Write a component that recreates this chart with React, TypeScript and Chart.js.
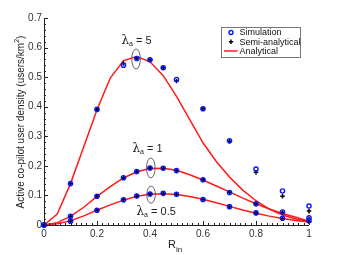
import React, { useEffect, useRef } from "react";
import { Chart, registerables } from "chart.js";

Chart.register(...registerables);

const pointX = [0, 0.1, 0.2, 0.3, 0.35, 0.4, 0.45, 0.5, 0.6, 0.7, 0.8, 0.9, 1.0];
const sim5 = [0, 0.140, 0.391, 0.540, 0.563, 0.559, 0.532, 0.492, 0.393, 0.285, 0.189, 0.115, 0.064];
const semi5 = [0, 0.140, 0.391, 0.546, 0.563, 0.559, 0.532, 0.487, 0.393, 0.283, 0.178, 0.097, 0.047];
const sim1 = [0, 0.029, 0.097, 0.160, 0.181, 0.193, 0.192, 0.184, 0.153, 0.110, 0.072, 0.044, 0.024];
const semi1 = [0, 0.029, 0.097, 0.160, 0.181, 0.193, 0.192, 0.184, 0.154, 0.111, 0.071, 0.042, 0.020];
const sim05 = [0, 0.013, 0.050, 0.085, 0.098, 0.105, 0.107, 0.104, 0.086, 0.062, 0.041, 0.023, 0.014];
const semi05 = [0, 0.013, 0.050, 0.085, 0.098, 0.105, 0.107, 0.104, 0.086, 0.062, 0.040, 0.022, 0.011];

const lineX = [0, 0.05, 0.1, 0.15, 0.2, 0.25, 0.3, 0.35, 0.4, 0.45, 0.5, 0.55, 0.6, 0.65, 0.7, 0.75, 0.8, 0.85, 0.9, 0.95, 1.0];
const ana5 = [0, 0.037, 0.14, 0.265, 0.39, 0.497, 0.556, 0.570, 0.552, 0.505, 0.435, 0.356, 0.278, 0.215, 0.162, 0.118, 0.082, 0.054, 0.034, 0.020, 0.012];
const ana1 = [0, 0.008, 0.029, 0.06, 0.097, 0.13, 0.159, 0.18, 0.191, 0.192, 0.185, 0.17, 0.152, 0.132, 0.112, 0.091, 0.072, 0.054, 0.039, 0.026, 0.013];
const ana05 = [0, 0.004, 0.014, 0.031, 0.050, 0.068, 0.084, 0.097, 0.104, 0.106, 0.103, 0.096, 0.087, 0.075, 0.063, 0.051, 0.040, 0.030, 0.022, 0.015, 0.010];

const xTickLabels = ["0", "0.2", "0.4", "0.6", "0.8", "1"];
const yTickLabels = ["0", "0.1", "0.2", "0.3", "0.4", "0.5", "0.6", "0.7"];
const legendLabels = ["Simulation", "Semi-analytical", "Analytical"];
const curveLabels = ["5", "1", "0.5"];
// annotation anchors in data coordinates: [labelX, labelBaselineY, ellipseX, ellipseY]
const annotations = [
  [0.292, 0.613, 0.3475, 0.5615],
  [0.334, 0.248, 0.403, 0.193],
  [0.349, 0.035, 0.404, 0.1026],
];

const BLUE = "#0a14ff";
const RED = "#ff1a1a";

const pts = (xs: number[], ys: number[]) => xs.map((x, i) => ({ x, y: ys[i] }));

export default function App() {
  const ref = useRef<HTMLCanvasElement>(null);
  useEffect(() => {
    if (!ref.current) return;
    const simStyle = {
      showLine: false,
      pointStyle: "circle" as const,
      pointRadius: 2.1,
      pointBorderWidth: 1.4,
      pointBorderColor: BLUE,
      pointBackgroundColor: "rgba(0,0,0,0)",
      borderColor: BLUE,
      clip: false as any,
    };
    const semiStyle = {
      showLine: false,
      pointStyle: "cross" as const,
      pointRadius: 2.3,
      pointBorderWidth: 1.5,
      pointBorderColor: "#000",
      pointBackgroundColor: "#000",
      borderColor: "#000",
      clip: false as any,
    };
    const lineStyle = {
      showLine: true,
      borderColor: RED,
      borderWidth: 1.5,
      pointRadius: 0,
      tension: 0,
      fill: false,
      clip: false as any,
    };

    const plugin = {
      id: "decor",
      afterDraw(chart: any) {
        const ctx = chart.ctx;
        const xs = chart.scales.x;
        const ys = chart.scales.y;
        const ca = chart.chartArea;
        ctx.save();
        // axis lines
        ctx.strokeStyle = "#222";
        ctx.lineWidth = 1;
        ctx.beginPath();
        ctx.moveTo(ca.left + 0.5, ca.top);
        ctx.lineTo(ca.left + 0.5, ca.bottom + 0.5);
        ctx.lineTo(ca.right, ca.bottom + 0.5);
        ctx.stroke();
        // ticks (inward)
        ctx.beginPath();
        for (let i = 0; i <= 50; i++) {
          const v = i * 0.02;
          const px = Math.round(xs.getPixelForValue(v)) + 0.5;
          const len = i % 10 === 0 ? 4 : 2;
          ctx.moveTo(px, ca.bottom);
          ctx.lineTo(px, ca.bottom - len);
        }
        for (let i = 0; i <= 35; i++) {
          const v = i * 0.02;
          const py = Math.round(ys.getPixelForValue(v)) + 0.5;
          const len = i % 5 === 0 ? 4 : 2;
          ctx.moveTo(ca.left, py);
          ctx.lineTo(ca.left + len, py);
        }
        ctx.stroke();

        // y title
        ctx.fillStyle = "#222";
        ctx.textBaseline = "alphabetic";
        const main = "Active co-pilot user density (users/km";
        ctx.font = "10px 'Liberation Sans', Arial, sans-serif";
        const wMain = ctx.measureText(main).width;
        ctx.font = "7px 'Liberation Sans', Arial, sans-serif";
        const wSup = ctx.measureText("2").width;
        ctx.font = "10px 'Liberation Sans', Arial, sans-serif";
        const wEnd = ctx.measureText(")").width;
        const total = wMain + wSup + wEnd;
        ctx.save();
        ctx.translate(24, 122);
        ctx.rotate(-Math.PI / 2);
        let cx = -total / 2;
        ctx.textAlign = "left";
        ctx.fillText(main, cx, 0);
        cx += wMain;
        ctx.font = "7px 'Liberation Sans', Arial, sans-serif";
        ctx.fillText("2", cx, -5);
        cx += wSup;
        ctx.font = "10px 'Liberation Sans', Arial, sans-serif";
        ctx.fillText(")", cx, 0);
        ctx.restore();

        // x title
        ctx.font = "11px 'Liberation Sans', Arial, sans-serif";
        ctx.textAlign = "left";
        ctx.fillText("R", 168, 248);
        const rw = ctx.measureText("R").width;
        ctx.font = "8px 'Liberation Sans', Arial, sans-serif";
        ctx.fillText("in", 168 + rw, 252);

        // annotations
        annotations.forEach((a, i) => {
          const lx = xs.getPixelForValue(a[0]);
          const ly = ys.getPixelForValue(a[1]);
          ctx.fillStyle = "#222";
          ctx.font = "12px 'DejaVu Serif', serif";
          ctx.fillText("λ", lx, ly);
          const lw = ctx.measureText("λ").width;
          ctx.font = "7px 'Liberation Sans', Arial, sans-serif";
          ctx.fillText("a", lx + lw, ly + 2.5);
          const aw = ctx.measureText("a").width;
          ctx.font = "11px 'Liberation Sans', Arial, sans-serif";
          ctx.fillText(" = " + curveLabels[i], lx + lw + aw, ly);
          const ex = xs.getPixelForValue(a[2]);
          const ey = ys.getPixelForValue(a[3]);
          ctx.strokeStyle = "#555";
          ctx.lineWidth = 0.9;
          ctx.beginPath();
          ctx.ellipse(ex, ey, 4.3, i === 2 ? 8.5 : 10, 0, 0, Math.PI * 2);
          ctx.stroke();
        });

        // legend
        const bx = 221.5, by = 27.5, bw = 79, bh = 30;
        ctx.fillStyle = "#fff";
        ctx.fillRect(bx, by, bw, bh);
        ctx.strokeStyle = "#777";
        ctx.lineWidth = 1;
        ctx.strokeRect(bx, by, bw, bh);
        ctx.font = "9px 'Liberation Sans', Arial, sans-serif";
        ctx.fillStyle = "#111";
        ctx.textBaseline = "middle";
        const rows = [32.5, 41.8, 51];
        legendLabels.forEach((t, i) => {
          ctx.fillText(t, 239.5, rows[i] + 0.5);
        });
        // markers
        ctx.strokeStyle = BLUE;
        ctx.lineWidth = 1.4;
        ctx.beginPath();
        ctx.arc(231, rows[0], 2, 0, Math.PI * 2);
        ctx.stroke();
        ctx.strokeStyle = "#000";
        ctx.lineWidth = 1.5;
        ctx.beginPath();
        ctx.moveTo(228.8, rows[1]);
        ctx.lineTo(233.2, rows[1]);
        ctx.moveTo(231, rows[1] - 2.2);
        ctx.lineTo(231, rows[1] + 2.2);
        ctx.stroke();
        ctx.strokeStyle = RED;
        ctx.lineWidth = 1.5;
        ctx.beginPath();
        ctx.moveTo(224, rows[2]);
        ctx.lineTo(237.5, rows[2]);
        ctx.stroke();
        ctx.restore();
      },
    };

    const chart = new Chart(ref.current, {
      type: "scatter",
      data: {
        datasets: [
          { label: "Simulation λa=5", data: pts(pointX, sim5), ...simStyle },
          { label: "Simulation λa=1", data: pts(pointX, sim1), ...simStyle },
          { label: "Simulation λa=0.5", data: pts(pointX, sim05), ...simStyle },
          { label: "Semi-analytical λa=5", data: pts(pointX, semi5), ...semiStyle },
          { label: "Semi-analytical λa=1", data: pts(pointX, semi1), ...semiStyle },
          { label: "Semi-analytical λa=0.5", data: pts(pointX, semi05), ...semiStyle },
          { label: "Analytical λa=5", data: pts(lineX, ana5), ...lineStyle },
          { label: "Analytical λa=1", data: pts(lineX, ana1), ...lineStyle },
          { label: "Analytical λa=0.5", data: pts(lineX, ana05), ...lineStyle },
        ] as any,
      },
      options: {
        responsive: false,
        animation: false,
        layout: { padding: { left: 0, right: 32, top: 18, bottom: 0 } },
        plugins: { legend: { display: false }, tooltip: { enabled: false } },
        scales: {
          x: {
            type: "linear",
            min: 0,
            max: 1,
            grid: { display: false, drawTicks: false },
            border: { display: false },
            ticks: {
              stepSize: 0.2,
              padding: 3,
              color: "#333",
              font: { family: "'Liberation Sans', Arial, sans-serif", size: 10 },
              maxRotation: 0,
              callback: (_v: any, i: number) => xTickLabels[i],
            },
            afterFit: (s: any) => {
              s.height = 30;
            },
          },
          y: {
            type: "linear",
            min: 0,
            max: 0.7,
            grid: { display: false, drawTicks: false },
            border: { display: false },
            ticks: {
              stepSize: 0.1,
              padding: 2,
              color: "#333",
              font: { family: "'Liberation Sans', Arial, sans-serif", size: 10 },
              callback: (_v: any, i: number) => yTickLabels[i],
            },
            afterFit: (s: any) => {
              s.width = 44;
            },
          },
        },
      } as any,
      plugins: [plugin],
    });
    return () => chart.destroy();
  }, []);
  return (
    <div style={{ position: "fixed", left: 0, top: 0, width: 341, height: 255, background: "#fff" }}>
      <canvas ref={ref} width={341} height={255} />
    </div>
  );
}
